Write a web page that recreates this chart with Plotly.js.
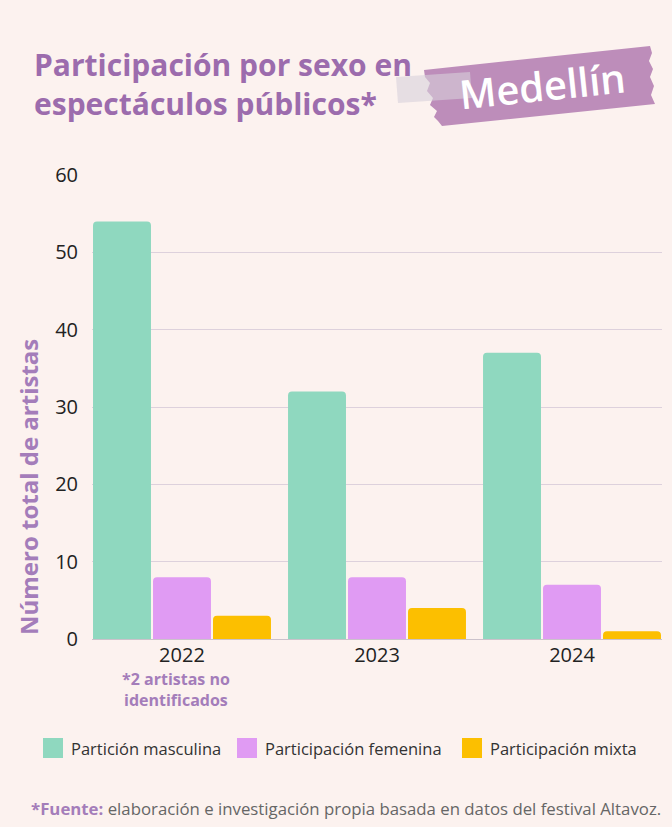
<!DOCTYPE html>
<html>
<head>
<meta charset="utf-8">
<script src="https://cdn.plot.ly/plotly-3.0.1.min.js"></script>
<style>html,body{margin:0;padding:0;background:#fcf2ef;}</style>
</head>
<body>
<div id="chart" style="width:672px;height:827px;"></div>
<script>
// ---- data ----
const years = ['2022', '2023', '2024'];
const masculina = [54, 32, 37];
const femenina = [8, 8, 7];
const mixta = [3, 4, 1];
const seriesNames = ['Partición masculina', 'Participación femenina', 'Participación mixta'];
const yTicks = [0, 10, 20, 30, 40, 50, 60];

// ---- styling ----
const seriesColors = ['#8fd8bf', '#e09bf3', '#fcbf00'];
const purple = '#9c6cad';
const lightPurple = '#a47dba';
const FONT = 'Open Sans, Noto Sans, sans-serif';

const W = 672, H = 827;
const M = {l: 92, r: 10, t: 175, b: 188};
const PW = W - M.l - M.r, PH = H - M.t - M.b;
const px = p => (p - M.l) / PW;
const py = p => (H - M.b - p) / PH;

const gap = 0.077;
const values = [masculina, femenina, mixta];
const traces = values.map((v, i) => ({
  type: 'bar', x: years, y: v, name: seriesNames[i],
  marker: {color: seriesColors[i], cornerradius: 4, line: {width: 0}},
  showlegend: false, hoverinfo: 'x+y+name'
}));

function poly(pts) {
  return 'M' + pts.map(p => px(p[0]).toFixed(5) + ',' + py(p[1]).toFixed(5)).join(' L') + ' Z';
}

const shapes = [];
const annotations = [];

// badge (torn tape)
shapes.push({type: 'path', xref: 'paper', yref: 'paper', layer: 'above',
  path: poly([[424,70],[650,46],[652,53],[649,61],[653,69],[650,77],[654,86],[651,95],[655,104],
              [442,126],[438,121],[434,117],[437,111],[430,105],[433,98],[427,91],[430,83],[425,77]]),
  fillcolor: '#bd8dba', line: {width: 0}});
shapes.push({type: 'path', xref: 'paper', yref: 'paper', layer: 'above',
  path: poly([[396,77],[470,72],[472,98],[398,103]]),
  fillcolor: 'rgba(215,208,218,0.6)', line: {width: 0}});

annotations.push({xref: 'paper', yref: 'paper', x: px(542), y: py(86), text: 'Medellín',
  showarrow: false, textangle: -6, xanchor: 'center', yanchor: 'middle',
  font: {family: FONT, size: 40, color: '#ffffff', weight: 600}});

// title
annotations.push({xref: 'paper', yref: 'paper', x: px(32), y: py(84),
  text: 'Participación por sexo en<br>espectáculos públicos*',
  showarrow: false, xanchor: 'left', yanchor: 'middle', align: 'left',
  font: {family: FONT, size: 30, color: purple, weight: 700}});

// y title
annotations.push({xref: 'paper', yref: 'paper', x: px(28), y: py(487), text: 'Número total de artistas',
  showarrow: false, textangle: -90, xanchor: 'center', yanchor: 'middle',
  font: {family: FONT, size: 24, color: lightPurple, weight: 700}});

// note under 2022
annotations.push({xref: 'paper', yref: 'paper', x: px(176), y: py(689), text: '*2 artistas no<br>identificados',
  showarrow: false, xanchor: 'center', yanchor: 'middle', align: 'center',
  font: {family: FONT, size: 16, color: lightPurple, weight: 700}});

// custom legend
const legendX = [43, 237, 462];
seriesNames.forEach((n, i) => {
  shapes.push({type: 'rect', xref: 'paper', yref: 'paper', layer: 'above',
    x0: px(legendX[i]), x1: px(legendX[i] + 20), y0: py(758), y1: py(738),
    fillcolor: seriesColors[i], line: {width: 0}});
  annotations.push({xref: 'paper', yref: 'paper', x: px(legendX[i] + 26), y: py(748), text: n,
    showarrow: false, xanchor: 'left', yanchor: 'middle',
    font: {family: FONT, size: 16.5, color: '#333333'}});
});

// footer
annotations.push({xref: 'paper', yref: 'paper', x: px(663), y: py(808),
  text: "<b><span style='color:" + lightPurple + "'>*Fuente:</span></b> elaboración e investigación propia basada en datos del festival Altavoz.",
  showarrow: false, xanchor: 'right', yanchor: 'middle',
  font: {family: FONT, size: 16.8, color: '#666666'}});

const layout = {
  width: W, height: H,
  margin: {l: M.l, r: M.r, t: M.t, b: M.b, pad: 0},
  paper_bgcolor: '#fcf2ef', plot_bgcolor: '#fcf2ef',
  barmode: 'group', bargap: gap, bargroupgap: 0.034,
  font: {family: FONT, color: '#222222'},
  xaxis: {type: 'category', range: [-0.5 + gap / 2, years.length - 0.5 - gap / 2],
    showgrid: false, zeroline: false, showline: false, ticks: '',
    tickfont: {family: FONT, size: 20, color: '#222222'}, ticklabelstandoff: 2, fixedrange: true},
  yaxis: {range: [0, 60], tickvals: yTicks, ticktext: yTicks.map(String),
    showgrid: true, gridcolor: '#ddd1dc', gridwidth: 1,
    zeroline: true, zerolinecolor: '#cbc2cb', zerolinewidth: 1, showline: false, ticks: '',
    tickfont: {family: FONT, size: 20, color: '#222222'}, ticklabelstandoff: 13, fixedrange: true},
  shapes: shapes, annotations: annotations, showlegend: false
};

Plotly.newPlot('chart', traces, layout, {displayModeBar: false, staticPlot: true});
</script>
</body>
</html>
